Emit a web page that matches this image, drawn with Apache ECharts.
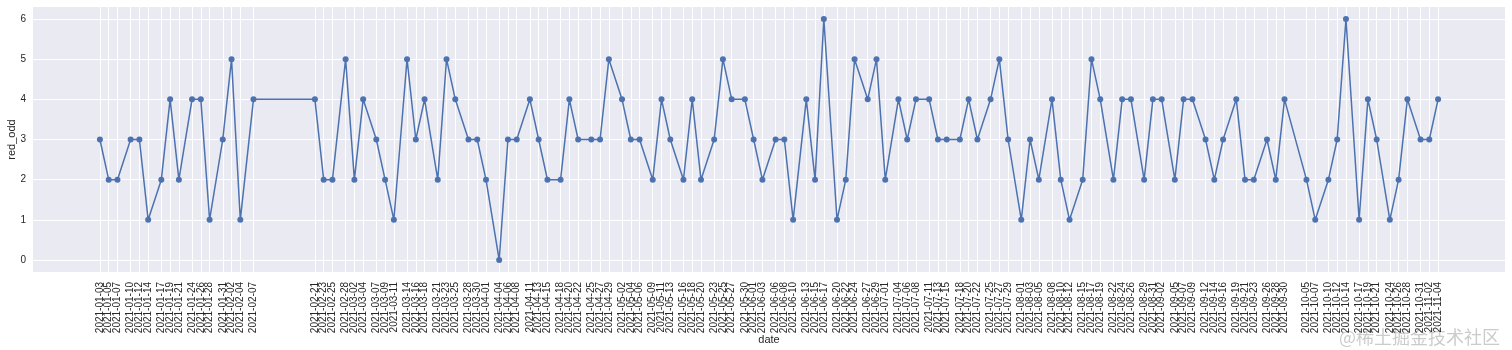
<!DOCTYPE html>
<html>
<head>
<meta charset="utf-8">
<script src="https://cdn.jsdelivr.net/npm/echarts@6/dist/echarts.min.js"></script>
<style>
  html, body { margin: 0; padding: 0; background: #ffffff; }
  #chart { width: 1512px; height: 350px; }
</style>
</head>
<body>
<div id="chart"></div>
<script>
const dates = [
  '2021-01-03','2021-01-05','2021-01-07','2021-01-10','2021-01-12','2021-01-14','2021-01-17','2021-01-19',
  '2021-01-21','2021-01-24','2021-01-26','2021-01-28','2021-01-31','2021-02-02','2021-02-04','2021-02-07',
  '2021-02-21','2021-02-23','2021-02-25','2021-02-28','2021-03-02','2021-03-04','2021-03-07','2021-03-09',
  '2021-03-11','2021-03-14','2021-03-16','2021-03-18','2021-03-21','2021-03-23','2021-03-25','2021-03-28',
  '2021-03-30','2021-04-01','2021-04-04','2021-04-06','2021-04-08','2021-04-11','2021-04-13','2021-04-15',
  '2021-04-18','2021-04-20','2021-04-22','2021-04-25','2021-04-27','2021-04-29','2021-05-02','2021-05-04',
  '2021-05-06','2021-05-09','2021-05-11','2021-05-13','2021-05-16','2021-05-18','2021-05-20','2021-05-23',
  '2021-05-25','2021-05-27','2021-05-30','2021-06-01','2021-06-03','2021-06-06','2021-06-08','2021-06-10',
  '2021-06-13','2021-06-15','2021-06-17','2021-06-20','2021-06-22','2021-06-24','2021-06-27','2021-06-29',
  '2021-07-01','2021-07-04','2021-07-06','2021-07-08','2021-07-11','2021-07-13','2021-07-15','2021-07-18',
  '2021-07-20','2021-07-22','2021-07-25','2021-07-27','2021-07-29','2021-08-01','2021-08-03','2021-08-05',
  '2021-08-08','2021-08-10','2021-08-12','2021-08-15','2021-08-17','2021-08-19','2021-08-22','2021-08-24',
  '2021-08-26','2021-08-29','2021-08-31','2021-09-02','2021-09-05','2021-09-07','2021-09-09','2021-09-12',
  '2021-09-14','2021-09-16','2021-09-19','2021-09-21','2021-09-23','2021-09-26','2021-09-28','2021-09-30',
  '2021-10-05','2021-10-07','2021-10-10','2021-10-12','2021-10-14','2021-10-17','2021-10-19','2021-10-21',
  '2021-10-24','2021-10-26','2021-10-28','2021-10-31','2021-11-02','2021-11-04'
];
const redOdd = [
  3,2,2,3,3,1,2,4, 2,4,4,1,3,5,1,4,
  4,2,2,5,2,4,3,2, 1,5,3,4,2,5,4,3,
  3,2,0,3,3,4,3,2, 2,4,3,3,3,5,4,3,
  3,2,4,3,2,4,2,3, 5,4,4,3,2,3,3,1,
  4,2,6,1,2,5,4,5, 2,4,3,4,4,3,3,3,
  4,3,4,5,3,1,3,2, 4,2,1,2,5,4,2,4,
  4,2,4,4,2,4,4,3, 2,3,4,2,2,3,2,4,
  2,1,2,3,6,1,4,3, 1,2,4,3,3,4
];
const xTickLabels = dates;
const yTicks = [0, 1, 2, 3, 4, 5, 6];

const DAY = 86400000;
const toDay = s => Math.round(Date.UTC(+s.slice(0, 4), +s.slice(5, 7) - 1, +s.slice(8, 10)) / DAY);
const fromDay = d => new Date(Math.round(d) * DAY).toISOString().slice(0, 10);

const chart = echarts.init(document.getElementById('chart'), null, { renderer: 'canvas' });
const xs = dates.map(toDay);
const xTickVals = xTickLabels.map(toDay);
const tickSet = new Set(xTickVals);
const span = xs[xs.length - 1] - xs[0];
const xMin = xs[0] - span * 0.05;
const xMax = xs[xs.length - 1] + span * 0.05;
// empty placeholder labels at the axis ends, so that edge-label overlap handling
// does not hide the 2nd / 2nd-to-last date labels
const xLabelVals = [xMin].concat(xTickVals, [xMax]);
const yRange = Math.max(...yTicks) - Math.min(...yTicks);
const labelFont = 'Liberation Sans, Arial, sans-serif';
const textColor = '#262626';

chart.setOption({
  animation: false,
  backgroundColor: '#ffffff',
  grid: {
    left: 33, right: 7, top: 7, bottom: 78,
    outerBoundsMode: 'none',
    containLabel: false,
    show: true, backgroundColor: '#EAEAF2', borderWidth: 0
  },
  xAxis: {
    type: 'value',
    min: xMin, max: xMax,
    name: 'date',
    nameLocation: 'middle',
    nameGap: 62,
    nameMoveOverlap: false,
    nameTextStyle: { color: textColor, fontSize: 11, fontFamily: labelFont },
    axisLine: { show: false },
    axisTick: { show: false, customValues: xTickVals },
    axisLabel: {
      customValues: xLabelVals,
      rotate: 90,
      margin: 10,
      fontSize: 10,
      color: textColor,
      fontFamily: labelFont,
      hideOverlap: false,
      showMinLabel: true,
      showMaxLabel: true,
      formatter: v => tickSet.has(v) ? fromDay(v) : ''
    },
    splitLine: { show: false }
  },
  yAxis: {
    type: 'value',
    min: Math.min(...yTicks) - yRange * 0.05,
    max: Math.max(...yTicks) + yRange * 0.05,
    name: 'red_odd',
    nameLocation: 'middle',
    nameGap: 16,
    nameMoveOverlap: false,
    nameRotate: 90,
    nameTextStyle: { color: textColor, fontSize: 11, fontFamily: labelFont },
    axisLine: { show: false },
    axisTick: { show: false, customValues: yTicks },
    axisLabel: {
      customValues: yTicks,
      margin: 7,
      fontSize: 10,
      color: textColor,
      fontFamily: labelFont,
      showMinLabel: true,
      showMaxLabel: true
    },
    splitLine: { show: true, lineStyle: { color: '#ffffff', width: 1.2 } }
  },
  series: [{
    type: 'line',
    z: 3,
    data: xs.map((x, i) => [x, redOdd[i]]),
    symbol: 'circle',
    symbolSize: 6,
    showAllSymbol: true,
    lineStyle: { color: '#4C72B0', width: 1.5 },
    itemStyle: { color: '#4C72B0' },
    markLine: {
      z: 1,
      silent: true,
      animation: false,
      symbol: ['none', 'none'],
      label: { show: false },
      emphasis: { disabled: true },
      lineStyle: { color: '#ffffff', width: 1, type: 'solid', opacity: 1 },
      data: xTickVals.map(v => ({ xAxis: v }))
    }
  }],
  graphic: [{
    type: 'text',
    right: 12,
    bottom: 4,
    style: {
      text: '@稀土掘金技术社区',
      font: '18px "Noto Sans CJK SC", sans-serif',
      fill: 'rgba(160,160,160,0.55)'
    }
  }]
});
</script>
</body>
</html>
